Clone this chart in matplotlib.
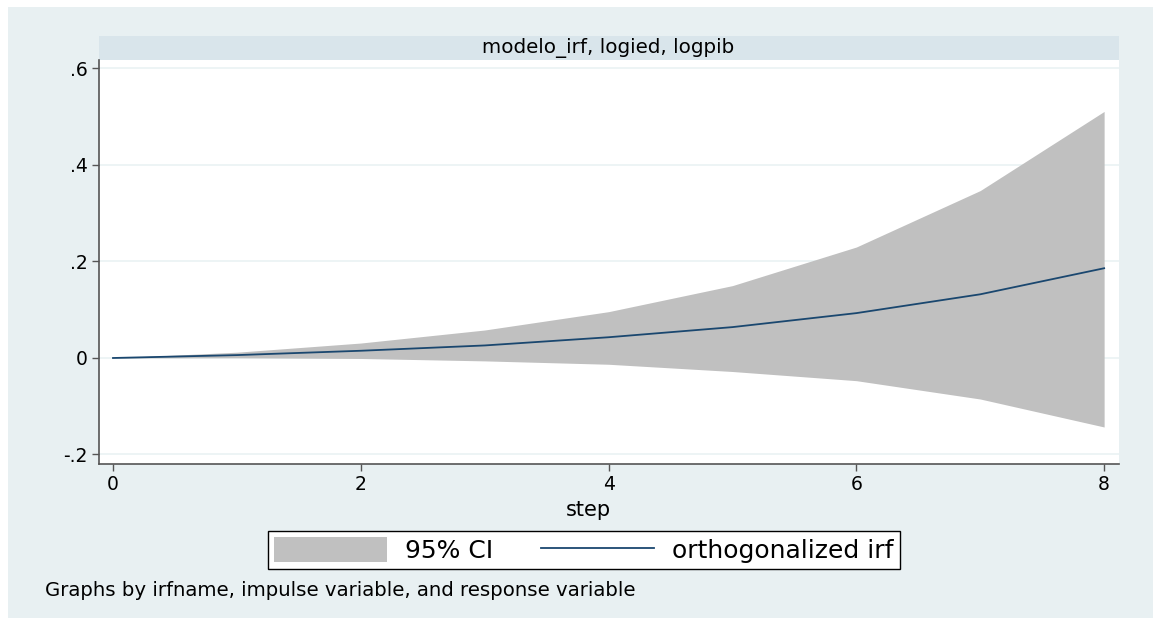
import matplotlib.pyplot as plt
from matplotlib.patches import Rectangle, Patch
from matplotlib.lines import Line2D

plt.rcParams['font.family'] = ['DejaVu Sans']

steps = [0, 1, 2, 3, 4, 5, 6, 7, 8]
irf = [0.0, 0.006, 0.015, 0.026, 0.043, 0.064, 0.093, 0.132, 0.186]
ci_low = [0.0, 0.0005, -0.001, -0.006, -0.013, -0.028, -0.047, -0.085, -0.143]
ci_high = [0.0, 0.012, 0.031, 0.058, 0.096, 0.150, 0.230, 0.347, 0.511]

yticks = [-0.2, 0, 0.2, 0.4, 0.6]
ytick_labels = ['-.2', '0', '.2', '.4', '.6']
xticks = [0, 2, 4, 6, 8]

bg = '#e8f0f2'
strip = '#d9e5eb'
gray = '#c0c0c0'
navy = '#1a476f'

W, H = 1153, 618
fig = plt.figure(figsize=(W / 100, H / 100), dpi=100)
fig.patch.set_facecolor('white')
fig.patches.append(Rectangle((8 / W, 0), 1 - 8 / W, 1 - 7 / H, transform=fig.transFigure,
                             facecolor=bg, edgecolor='none', zorder=0))
# title strip above the plot region
fig.patches.append(Rectangle((99 / W, 1 - 60 / H), (1119 - 99) / W, 24 / H,
                             transform=fig.transFigure, facecolor=strip,
                             edgecolor='none', zorder=1))
fig.text(608 / W, 1 - 48 / H, 'modelo_irf, logied, logpib',
         ha='center', va='center', fontsize=14.3, zorder=3)

ax = fig.add_axes([99 / W, 1 - 464 / H, (1119 - 99) / W, (464 - 60) / H])
ax.set_zorder(2)
ax.set_facecolor('white')
ax.fill_between(steps, ci_low, ci_high, color=gray, lw=0, zorder=2)
ax.plot(steps, irf, color=navy, lw=1.3, zorder=3)

ax.set_xlim(-0.113, 8.12)
ax.set_ylim(-0.2197, 0.6176)
ax.set_yticks(yticks)
ax.set_yticklabels(ytick_labels)
ax.set_xticks(xticks)
for y in yticks:
    ax.axhline(y, color='#eaf2f3', lw=1.2, zorder=1)

for s in ['top', 'right']:
    ax.spines[s].set_visible(False)
for s in ['left', 'bottom']:
    ax.spines[s].set_color('#555555')
    ax.spines[s].set_linewidth(1.2)
ax.tick_params(direction='out', length=5, width=1, color='#555555',
               labelsize=13.5, pad=3)
ax.set_xlabel('step', fontsize=15, labelpad=3)
ax.xaxis.set_label_coords((588 - 99) / (1119 - 99), -0.09)

handles = [Patch(facecolor=gray, edgecolor='none'),
           Line2D([], [], color=navy, lw=1.3)]
leg = fig.legend(handles, ['95% CI', 'orthogonalized irf'], ncol=2,
                 loc='center', bbox_to_anchor=(584 / W, 1 - 550 / H),
                 fontsize=18, frameon=True, fancybox=False,
                 handlelength=4.5, handleheight=1.15, handletextpad=0.74,
                 columnspacing=1.9, borderpad=0.25)
leg.get_frame().set_edgecolor('black')
leg.get_frame().set_facecolor('white')
leg.get_frame().set_alpha(1)
leg.get_frame().set_linewidth(1.0)

fig.text(45 / W, 1 - 590 / H, 'Graphs by irfname, impulse variable, and response variable',
         ha='left', va='center', fontsize=14.2)

fig.savefig('out.png', dpi=100, facecolor=fig.get_facecolor())
